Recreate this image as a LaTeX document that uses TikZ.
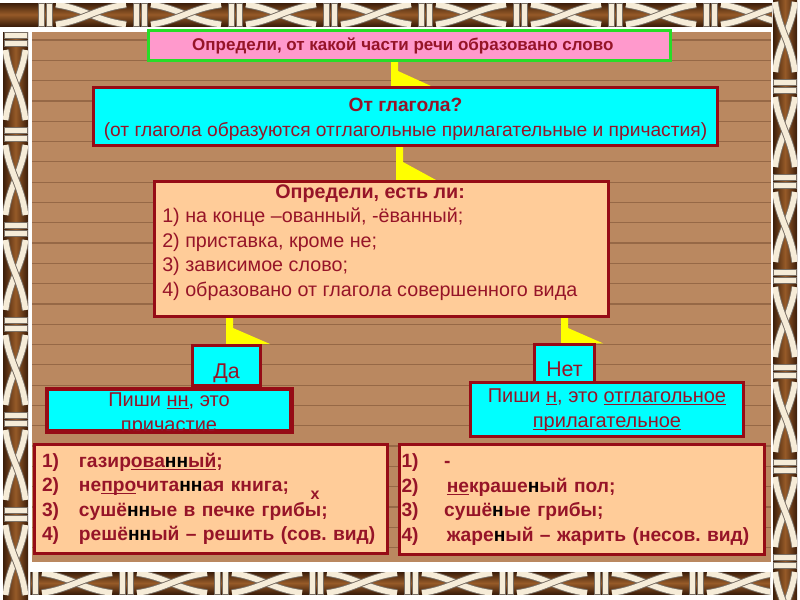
\documentclass[tikz,border=0pt]{standalone}
\usepackage{fontspec}
\setmainfont{Liberation Sans}
\usetikzlibrary{backgrounds}
\frenchspacing

\definecolor{woodfill}{RGB}{186,136,96}
\definecolor{woodline}{RGB}{150,104,70}
\definecolor{ropebrown}{RGB}{150,90,40}
\definecolor{ropedark}{RGB}{60,30,10}
\definecolor{ropecream}{RGB}{246,236,216}
\definecolor{ropegray}{RGB}{120,110,100}
\definecolor{boxred}{RGB}{150,12,22}
\definecolor{textred}{RGB}{150,20,40}
\definecolor{titlepink}{RGB}{255,153,204}
\definecolor{titlegreen}{RGB}{40,220,40}
\definecolor{notecyan}{RGB}{0,255,255}
\definecolor{peach}{RGB}{255,204,153}
\definecolor{linkyellow}{RGB}{255,255,0}

\newcommand{\ulin}[1]{\underline{\smash{#1}}}

\tikzset{
  box/.style={draw=boxred, line width=2.25pt, inner sep=0pt, text=textred},
  titlebox/.style={box, draw=titlegreen, fill=titlepink, font=\bfseries\fontsize{12.75}{15}\selectfont},
  notebox/.style={box, fill=notecyan},
  peachbox/.style={box, fill=peach},
  linkfill/.style={fill=linkyellow},
  ropeseg/.pic={
    \foreach \cx in {4,12}
      \draw[ropegray, fill=ropecream, line width=0.5pt] (\cx,-11.5) rectangle ++(6,23);
    \draw[ropegray, line width=5.6pt] (22,-10) .. controls (50,-6) and (62,6) .. (92,10);
    \draw[ropecream, line width=4.2pt] (22,-10) .. controls (50,-6) and (62,6) .. (92,10);
    \draw[ropegray, line width=5.6pt] (22,10) .. controls (50,6) and (62,-6) .. (92,-10);
    \draw[ropecream, line width=4.2pt] (22,10) .. controls (50,6) and (62,-6) .. (92,-10);
  }
}

% yellow bent link: upper node, lower node, bar x, drop, reach
\newcommand{\bentlink}[5]{%
  \fill[linkfill] (#3,0 |- #1.south) -- ++(7,0) -- ++(0,#4)
    -- (#3+#5,0 |- #2.north) -- (#3,0 |- #2.north) -- cycle;}

\begin{document}
\begin{tikzpicture}[x=0.75pt, y=-0.75pt]
    \useasboundingbox (0,0) rectangle (800,600);

    % Question boxes
    \node[titlebox, minimum width=391.5pt, minimum height=22.5pt] (title) at (409.5,45.5)
        {Определи, от какой части речи образовано слово\hspace*{10pt}};
    \node[notebox, minimum width=468pt, minimum height=43.5pt, align=center,
          font=\fontsize{14.4}{19}\selectfont] (q1) at (405.5,116.5)
        {\rule{0pt}{14.5pt}\textbf{От глагола?}\\(от глагола образуются отглагольные прилагательные и причастия)};
    \node[peachbox, minimum width=340.5pt, minimum height=101.25pt] (check) at (381.5,249) {};
    \node[anchor=north west, inner sep=0pt, align=left, text=textred,
          font=\fontsize{14.8}{18.4}\selectfont] (checktext) at (162,184)
        {\hspace*{84.75pt}\textbf{Определи, есть ли:}\\
         1) на конце –ованный, -ёванный;\\
         2) приставка, кроме не;\\
         3) зависимое слово;\\
         4) образовано от глагола совершенного вида};

    % Answers
    \node[notebox, minimum width=51pt, minimum height=30pt, text height=18.8pt, text depth=0pt,
          font=\fontsize{16}{18}\selectfont] (yes) at (226.5,365.5) {Да};
    \node[notebox, minimum width=45pt, minimum height=28pt, text height=20pt, text depth=0pt,
          font=\fontsize{16}{18}\selectfont] (no) at (564.5,363.5) {Нет};

    % Rules
    \node[notebox, minimum width=182.25pt, minimum height=30.75pt] (yesnote) at (169,410) {};
    \begin{scope}
        \clip (yesnote.south west) rectangle (yesnote.north east);
        \node[anchor=north, inner sep=0pt, align=center, text=textred,
              font=\fontsize{15}{18.75}\selectfont] (yesnotetext) at (169,392)
            {Пиши \ulin{нн}, это\\причастие};
    \end{scope}
    \draw[box] (yesnote.south west) rectangle (yesnote.north east);
    \node[notebox, minimum width=204.75pt, minimum height=40.5pt, align=center,
          font=\fontsize{15}{18.75}\selectfont] (nonote) at (607,409.5)
        {Пиши \ulin{н}, это \ulin{отглагольное}\\\ulin{прилагательное}};

    % Examples
    \node[peachbox, minimum width=264.75pt, minimum height=81.75pt, inner xsep=5.6pt,
          text width=253.5pt, align=left, font=\bfseries\fontsize{14.4}{18.4}\selectfont]
        (yeslist) at (211,499)
        {\makebox[27.75pt][l]{1)}газир\ulin{ова{\color{black}нн}ый};\\
         \makebox[27.75pt][l]{2)}не\ulin{про}чита{\color{black}нн}ая книга;\\
         \makebox[27.75pt][l]{3)}сушё{\color{black}нн}ые в печке грибы;\\
         \makebox[27.75pt][l]{4)}решё{\color{black}нн}ый – решить (сов. вид)};
    \node[text=textred, inner sep=0pt, font=\bfseries\fontsize{12}{14}\selectfont]
        (xmark) at (315,495) {x};
    \node[peachbox, minimum width=273.75pt, minimum height=82.5pt, inner xsep=1.5pt,
          text width=270.75pt, align=left, font=\bfseries\fontsize{14.4}{18.4}\selectfont]
        (nolist) at (582,499.5)
        {\makebox[32pt][l]{1)}-\\
         \makebox[32pt][l]{2)}\hspace{2pt}\ulin{не}краше{\color{black}н}ый пол;\\
         \makebox[32pt][l]{3)}сушё{\color{black}н}ые грибы;\\
         \makebox[32pt][l]{4)}\hspace{2pt}жаре{\color{black}н}ый – жарить (несов. вид)};

    \begin{scope}[on background layer]
        % Wooden board
        \fill[woodfill] (32,32) rectangle (771,562);
        \foreach \k in {0,...,25}
            \draw[woodline, line width=0.9pt] (32,{40+20.3*\k}) -- (771,{40+20.3*\k});

        % Rope frame
        \begin{scope}
            \clip (0,3) rectangle (772,26);
            \shade[top color=ropedark, bottom color=ropedark, middle color=ropebrown] (0,3) rectangle (772,26);
            \foreach \k in {0,...,8}
                \pic at ({34+95*\k},14.5) {ropeseg};
        \end{scope}
        \begin{scope}
            \clip (3,32) rectangle (28,600);
            \shade[left color=ropedark, right color=ropedark, middle color=ropebrown] (3,32) rectangle (28,600);
            \foreach \k in {0,...,6}
                \pic[rotate=-90] at (15.5,{28+95*\k}) {ropeseg};
        \end{scope}
        \begin{scope}
            \clip (773,0) rectangle (797,600);
            \shade[left color=ropedark, right color=ropedark, middle color=ropebrown] (773,0) rectangle (797,600);
            \foreach \k in {0,...,6}
                \pic[rotate=-90] at (785,{-20+95*\k}) {ropeseg};
        \end{scope}
        \begin{scope}
            \clip (30,572) rectangle (770,594);
            \shade[top color=ropedark, bottom color=ropedark, middle color=ropebrown] (30,572) rectangle (770,594);
            \foreach \k in {0,...,8}
                \pic at ({20+95*\k},583) {ropeseg};
        \end{scope}

        % Yellow links
        \bentlink{title}{q1}{391}{9}{40}
        \bentlink{q1}{check}{396}{15}{40}
        \bentlink{check}{yes}{226}{10}{44}
        \bentlink{check}{no}{561}{10}{42}
    \end{scope}
\end{tikzpicture}
\end{document}
